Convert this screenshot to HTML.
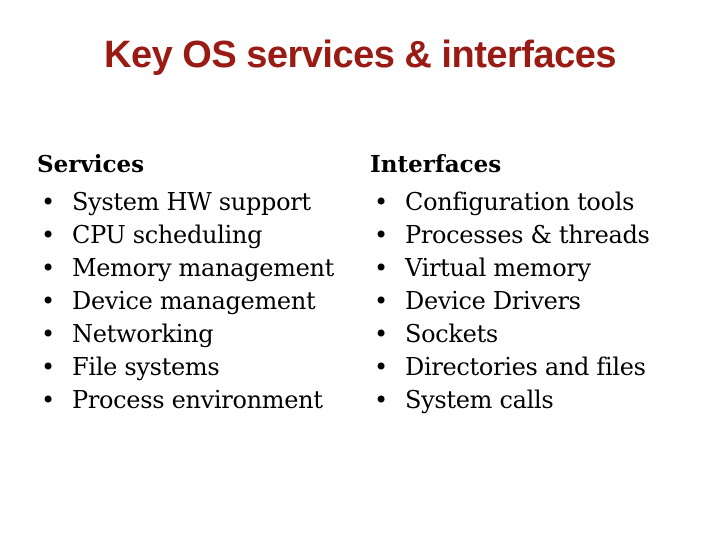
<!DOCTYPE html>
<html><head><meta charset="utf-8"><style>
body{margin:0;width:720px;height:540px;background:#fff;position:relative;overflow:hidden}
.t{position:absolute;left:0;width:720px;top:34px;text-align:center;font:bold 38px "Liberation Sans",sans-serif;color:#9a1a14;letter-spacing:-0.5px}
.col{position:absolute;top:148px;font-family:"DejaVu Serif",serif;font-size:24px;color:#000}
.h{font-weight:bold;height:38px;line-height:33px;font-size:23px}
.i{position:relative;height:33px;line-height:33px;padding-left:35px;white-space:nowrap;letter-spacing:-0.3px}
.i:before{content:"•";position:absolute;left:4px}
</style></head><body>
<div class="t">Key OS services &amp; interfaces</div>
<div class="col" style="left:37px">
<div class="h">Services</div>
<div class="i">System HW support</div>
<div class="i">CPU scheduling</div>
<div class="i">Memory management</div>
<div class="i">Device management</div>
<div class="i">Networking</div>
<div class="i">File systems</div>
<div class="i">Process environment</div>
</div>
<div class="col" style="left:370px">
<div class="h">Interfaces</div>
<div class="i">Configuration tools</div>
<div class="i">Processes &amp; threads</div>
<div class="i">Virtual memory</div>
<div class="i">Device Drivers</div>
<div class="i">Sockets</div>
<div class="i">Directories and files</div>
<div class="i">System calls</div>
</div>
</body></html>
